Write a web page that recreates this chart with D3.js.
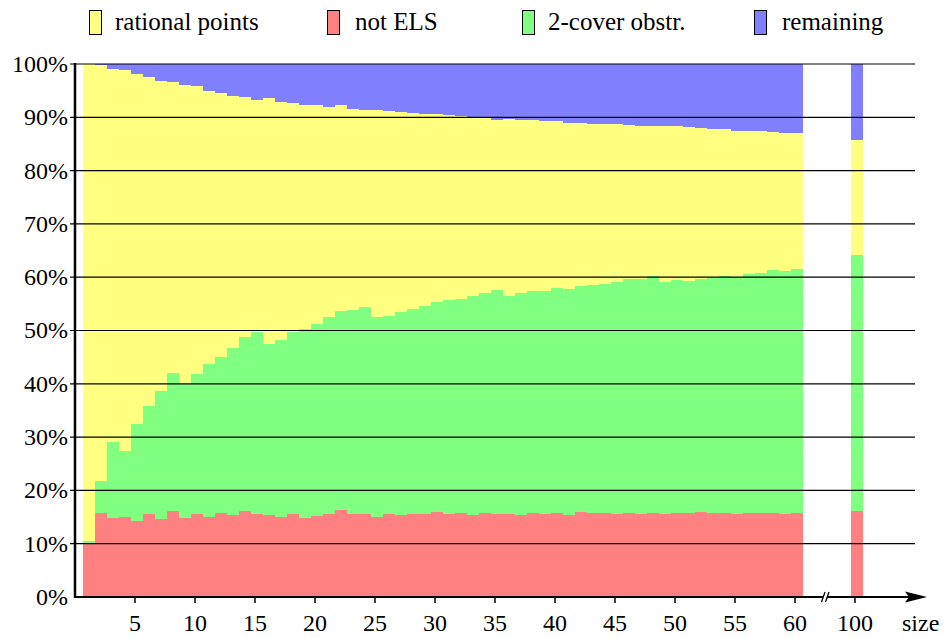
<!DOCTYPE html>
<html>
<head>
<meta charset="utf-8">
<script src="https://cdn.jsdelivr.net/npm/d3@7/dist/d3.min.js"></script>
<style>
  html, body { margin: 0; padding: 0; background: #fff; }
  #wrap { position: relative; width: 945px; height: 637px; }
  svg { display: block; position: absolute; left: 0; top: 0; }
  .lbl { position: absolute; white-space: nowrap; font-family: 'Liberation Serif', 'Times New Roman', Tinos, serif; color: #000; line-height: 1; }
</style>
</head>
<body>
<div id="wrap"><svg id="chart" width="945" height="637"></svg></div>
<script>
// ---- data (percent shares per curve size) ----
const sizes = [1,2,3,4,5,6,7,8,9,10,11,12,13,14,15,16,17,18,19,20,
  21,22,23,24,25,26,27,28,29,30,31,32,33,34,35,36,37,38,39,40,
  41,42,43,44,45,46,47,48,49,50,51,52,53,54,55,56,57,58,59,60,100];

const notELS = [10.1,15.8,14.9,15.0,14.3,15.6,14.6,16.2,14.9,15.6,
  15.1,15.8,15.4,16.2,15.6,15.4,15.1,15.6,14.8,15.2,
  15.6,16.3,15.6,15.6,15.0,15.6,15.4,15.6,15.6,16.0,
  15.6,15.8,15.4,15.8,15.6,15.6,15.4,15.8,15.6,15.8,
  15.4,16.0,15.8,15.8,15.6,15.8,15.6,15.8,15.6,15.8,
  15.8,16.0,15.8,15.8,15.6,15.8,15.8,15.8,15.6,15.8,16.1];

const coverObstr = [0.4,6.0,14.2,12.4,18.2,20.3,24.0,25.8,25.1,26.2,
  28.6,29.2,31.3,32.6,34.2,32.1,33.1,34.2,35.5,36.1,
  36.9,37.4,38.2,38.8,37.5,37.1,38.1,38.4,39.0,39.3,
  40.1,40.1,41.0,41.2,42.0,40.8,41.6,41.6,41.8,42.2,
  42.4,42.3,42.7,42.9,43.5,43.9,44.1,44.4,43.5,43.7,
  43.5,43.7,44.0,44.4,44.4,44.8,45.0,45.5,45.6,45.7,48.0];

const rationalPts = [89.5,78.1,70.0,71.5,65.6,61.7,58.2,54.6,56.1,54.1,
  51.2,49.6,47.3,45.0,43.4,46.1,44.7,42.9,42.0,41.0,
  39.4,38.6,37.8,37.0,38.9,38.5,37.5,36.8,36.0,35.3,
  34.7,34.3,33.6,32.9,31.9,33.3,32.5,32.1,31.9,31.3,
  31.1,30.6,30.2,30.0,29.6,28.9,28.7,28.2,29.3,28.9,
  28.9,28.3,28.0,27.6,27.4,26.8,26.6,25.9,25.8,25.5,21.7];

const remaining = [0.0,0.1,0.9,1.1,1.9,2.4,3.2,3.4,3.9,4.1,
  5.1,5.4,6.0,6.2,6.8,6.4,7.1,7.3,7.7,7.7,
  8.1,7.7,8.4,8.6,8.6,8.8,9.0,9.2,9.4,9.4,
  9.6,9.8,10.0,10.1,10.5,10.3,10.5,10.5,10.7,10.7,
  11.1,11.1,11.3,11.3,11.3,11.4,11.6,11.6,11.6,11.6,
  11.8,12.0,12.2,12.2,12.6,12.6,12.6,12.8,13.0,13.0,14.2];

const seriesKeys   = ["notELS", "coverObstr", "rationalPts", "remaining"];
const seriesColors = ["#ff8080", "#80ff80", "#ffff80", "#8080ff"];
const legendLabels = ["rational points", "not ELS", "2-cover obstr.", "remaining"];
const legendOrder  = ["rationalPts", "notELS", "coverObstr", "remaining"];
const xTickValues  = [5,10,15,20,25,30,35,40,45,50,55,60,100];
const yTickValues  = [0,10,20,30,40,50,60,70,80,90,100];

const SERIF = "'Liberation Serif', 'Times New Roman', Tinos, serif";

// ---- build table ----
const table = sizes.map((s, i) => ({
  size: s, notELS: notELS[i], coverObstr: coverObstr[i],
  rationalPts: rationalPts[i], remaining: remaining[i]
}));
const stacked = d3.stack().keys(seriesKeys)(table);
const color = d3.scaleOrdinal().domain(seriesKeys).range(seriesColors);

const svg = d3.select("#chart");
const wrap = d3.select("#wrap");

const x = d3.scaleLinear()
  .domain([0.5, 60.5, 99.5, 100.5])
  .range([83, 803, 851, 863]);
const y = d3.scaleLinear().domain([0, 100]).range([597, 64]);

svg.append("g").selectAll("g")
  .data(stacked).join("g")
  .attr("fill", d => color(d.key))
  .selectAll("rect")
  .data(d => d).join("rect")
  .attr("x", d => x(d.data.size - 0.5))
  .attr("width", d => x(d.data.size + 0.5) - x(d.data.size - 0.5))
  .attr("y", d => y(d[1]))
  .attr("height", d => y(d[0]) - y(d[1]))
  .attr("shape-rendering", "crispEdges");

// gridlines
const gridG = svg.append("g");
yTickValues.filter(v => v > 0).forEach(v => {
  gridG.append("line")
    .attr("x1", 70).attr("x2", 915).attr("y1", y(v)).attr("y2", y(v))
    .attr("stroke", "#000").attr("stroke-width", 1.2);
});
// y labels (svg text)
yTickValues.forEach(v => {
  svg.append("text")
    .attr("x", 68).attr("y", y(v)).attr("dy", "0.33em")
    .attr("text-anchor", "end")
    .style("font-family", SERIF).style("font-size", "24px")
    .text(v + "%");
});

svg.append("line")
  .attr("x1", 75).attr("x2", 75).attr("y1", 63).attr("y2", 598)
  .attr("stroke", "#000").attr("stroke-width", 2.5);

// x ticks & labels
xTickValues.forEach(v => {
  svg.append("line")
    .attr("x1", x(v) - 2).attr("x2", x(v) - 2).attr("y1", 597).attr("y2", 603)
    .attr("stroke", "#000").attr("stroke-width", 1.5);
  svg.append("text")
    .attr("x", x(v) - 2).attr("y", 631)
    .attr("text-anchor", "middle")
    .style("font-family", SERIF).style("font-size", "24px")
    .text(v);
});

svg.append("line")
  .attr("x1", 74).attr("x2", 910).attr("y1", 597).attr("y2", 597)
  .attr("stroke", "#000").attr("stroke-width", 2.2);
svg.append("path")
  .attr("d", "M 927 597 L 905 591.5 L 909 597 L 905 602.5 Z")
  .attr("fill", "#000");

svg.append("path")
  .attr("d", "M 821.5 602 L 825 592 L 829 592 L 825.5 602 Z")
  .attr("fill", "#fff");
svg.append("path")
  .attr("d", "M 821.5 602 L 825 592 M 825.5 602 L 829 592")
  .attr("stroke", "#000").attr("stroke-width", 1.3).attr("fill", "none");

svg.append("text")
  .attr("x", 902).attr("y", 631)
  .style("font-family", SERIF).style("font-size", "24px")
  .text("size");

// legend: boxes in svg, labels as HTML text
const legendBoxX  = [89, 327, 522, 754];
const legendTextX = [115, 355, 548, 782];
legendOrder.forEach((k, i) => {
  svg.append("rect")
    .attr("x", legendBoxX[i] + 0.5).attr("y", 10.5)
    .attr("width", 12).attr("height", 24)
    .attr("fill", color(k)).attr("stroke", "#000").attr("stroke-width", 1);
  wrap.append("div")
    .attr("class", "lbl")
    .style("left", legendTextX[i] + "px")
    .style("top", "9px")
    .style("font-size", "25px")
    .text(legendLabels[i]);
});
</script>
</body>
</html>
